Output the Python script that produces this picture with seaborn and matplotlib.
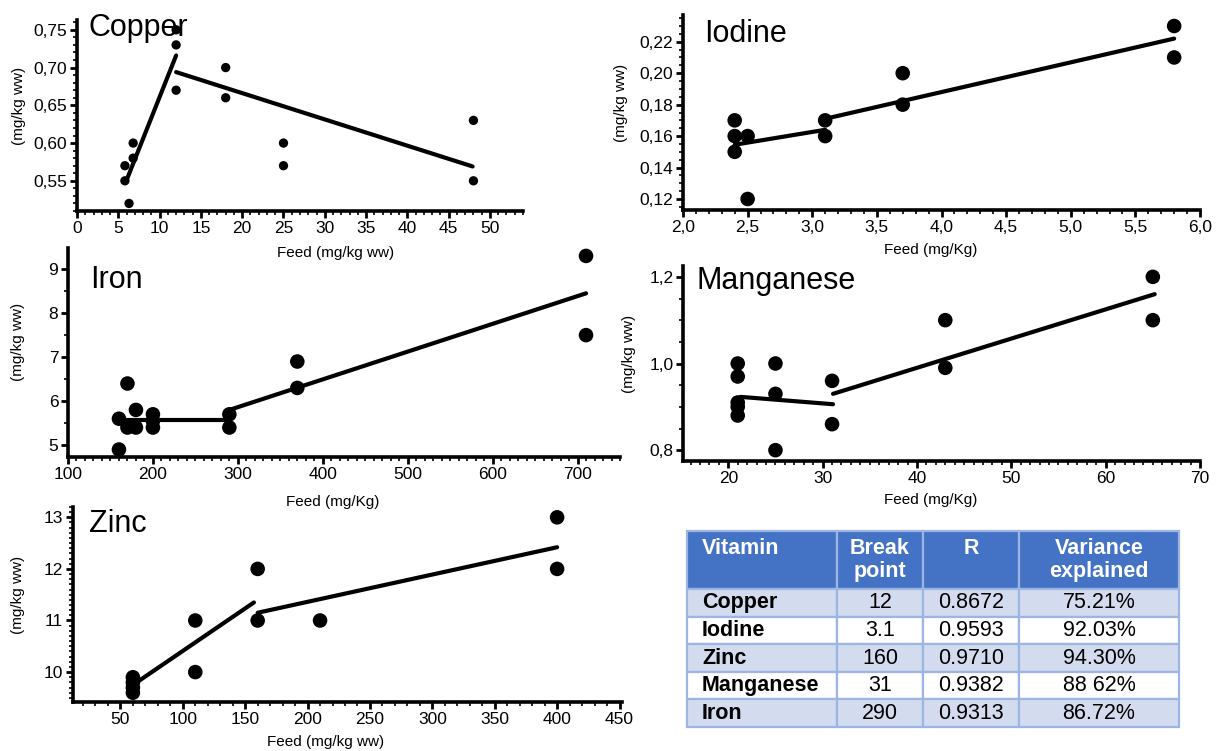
import numpy as np
import seaborn as sns
import matplotlib.pyplot as plt
from matplotlib.ticker import FuncFormatter, MultipleLocator

# ---- data ----
copper_x = [5.8, 5.8, 6.3, 6.8, 6.8, 12, 12, 12, 18, 18, 25, 25, 48, 48]
copper_y = [0.57, 0.55, 0.52, 0.60, 0.58, 0.75, 0.73, 0.67, 0.70, 0.66, 0.60, 0.57, 0.63, 0.55]
copper_fit_x = [[5.9, 12.0], [12.0, 47.9]]
copper_fit_y = [[0.548, 0.716], [0.694, 0.569]]

iodine_x = [2.4, 2.4, 2.4, 2.5, 2.5, 3.1, 3.1, 3.7, 3.7, 5.8, 5.8]
iodine_y = [0.17, 0.16, 0.15, 0.16, 0.12, 0.17, 0.16, 0.20, 0.18, 0.23, 0.21]
iodine_fit_x = [[2.4, 3.1], [3.1, 5.8]]
iodine_fit_y = [[0.1545, 0.164], [0.171, 0.222]]

iron_x = [160, 160, 170, 170, 180, 180, 200, 200, 200, 290, 290, 370, 370, 710, 710]
iron_y = [5.6, 4.9, 6.4, 5.4, 5.8, 5.4, 5.7, 5.55, 5.4, 5.7, 5.4, 6.9, 6.3, 9.3, 7.5]
iron_fit_x = [[165, 290], [290, 710]]
iron_fit_y = [[5.57, 5.57], [5.8, 8.45]]

mang_x = [21, 21, 21, 21, 21, 25, 25, 25, 31, 31, 43, 43, 65, 65]
mang_y = [1.00, 0.97, 0.91, 0.90, 0.88, 1.00, 0.93, 0.80, 0.96, 0.86, 1.10, 0.99, 1.20, 1.10]
mang_fit_x = [[21.3, 31.1], [31.1, 65.2]]
mang_fit_y = [[0.923, 0.906], [0.930, 1.160]]

zinc_x = [60, 60, 60, 60, 110, 110, 160, 160, 210, 400, 400]
zinc_y = [9.9, 9.8, 9.7, 9.6, 11, 10, 12, 11, 11, 13, 12]
zinc_fit_x = [[60, 157], [160, 400]]
zinc_fit_y = [[9.75, 11.35], [11.15, 12.42]]

vitamins = ['Copper', 'Iodine', 'Zinc', 'Manganese', 'Iron']
break_points = ['12', '3.1', '160', '31', '290']
r_values = ['0.8672', '0.9593', '0.9710', '0.9382', '0.9313']
variance = ['75.21%', '92.03%', '94.30%', '88 62%', '86.72%']
header = ['Vitamin\n ', 'Break\npoint', 'R\n ', 'Variance\nexplained']

sns.set_style('ticks')
plt.rcParams['font.family'] = ['Liberation Sans Narrow', 'Liberation Sans', 'DejaVu Sans']
plt.rcParams.update({'text.color': 'black', 'axes.labelcolor': 'black',
                     'xtick.color': 'black', 'ytick.color': 'black',
                     'axes.edgecolor': 'black'})

W, H = 1218, 751
fig = plt.figure(figsize=(W / 100, H / 100), dpi=100)


def px_axes(left, right, top, bottom):
    ax = fig.add_axes([left / W, 1 - bottom / H, (right - left) / W, (bottom - top) / H])
    ax.patch.set_alpha(0)
    return ax


def comma(dec):
    return FuncFormatter(lambda v, p: f'{v:.{dec}f}'.replace('.', ','))


def panel(ax, x, y, fit_x, fit_y, title, size, title_pos, xlabel, xlab_pos, ylab_x,
          xlim, ylim, xmaj, xmin, ymaj, ymin, xdec, ydec):
    sns.scatterplot(x=x, y=y, ax=ax, color='black', s=size, edgecolor='none', zorder=3)
    for fx, fy in zip(fit_x, fit_y):
        sns.lineplot(x=fx, y=fy, ax=ax, color='black', lw=3, estimator=None, sort=False)
    ax.set(xlim=xlim, ylim=ylim)
    ax.xaxis.set_major_locator(MultipleLocator(xmaj))
    ax.xaxis.set_minor_locator(MultipleLocator(xmin))
    ax.yaxis.set_major_locator(MultipleLocator(ymaj))
    ax.yaxis.set_minor_locator(MultipleLocator(ymin))
    ax.xaxis.set_major_formatter(comma(xdec))
    ax.yaxis.set_major_formatter(comma(ydec))
    sns.despine(ax=ax)
    for s in ['left', 'bottom']:
        ax.spines[s].set_linewidth(2.6)
        ax.spines[s].set_color('black')
    ax.tick_params(which='major', length=5, width=2, labelsize=12.5, pad=2, color='black')
    ax.tick_params(which='minor', length=3, width=1.2, color='black')
    ax.text(title_pos[0], title_pos[1], title, transform=ax.transAxes,
            fontsize=22, va='baseline', ha='left', color='black')
    ax.set_xlabel(xlabel, fontsize=11)
    ax.set_ylabel('(mg/kg ww)', fontsize=11)
    ax.xaxis.set_label_coords(xlab_pos[0], xlab_pos[1])
    ax.yaxis.set_label_coords(ylab_x, 0.55)
    ax.xaxis.label.set_va('center')
    ax.yaxis.label.set_va('center')


ax1 = px_axes(77, 523, 20, 211)
panel(ax1, copper_x, copper_y, copper_fit_x, copper_fit_y, 'Copper', 45, (0.025, 0.915),
      'Feed (mg/kg ww)', (0.58, -0.22), -0.13, (0, 54), (0.51, 0.763),
      5, 1, 0.05, 0.01, 0, 2)

ax2 = px_axes(683, 1200, 15, 210)
panel(ax2, iodine_x, iodine_y, iodine_fit_x, iodine_fit_y, 'Iodine', 110, (0.04, 0.86),
      'Feed (mg/Kg)', (0.48, -0.205), -0.12, (2, 6), (0.113, 0.237),
      0.5, 0.1, 0.02, 0.005, 1, 2)

ax3 = px_axes(68, 620, 248, 457)
panel(ax3, iron_x, iron_y, iron_fit_x, iron_fit_y, 'Iron', 110, (0.04, 0.81),
      'Feed (mg/Kg)', (0.48, -0.215), -0.09, (100, 750), (4.73, 9.48),
      100, 10, 1, 0.5, 0, 0)

ax4 = px_axes(683, 1200, 266, 461)
panel(ax4, mang_x, mang_y, mang_fit_x, mang_fit_y, 'Manganese', 110, (0.027, 0.88),
      'Feed (mg/Kg)', (0.48, -0.2), -0.105, (15.2, 70), (0.775, 1.225),
      10, 1, 0.2, 0.05, 0, 1)

ax5 = px_axes(73, 622, 507, 702)
panel(ax5, zinc_x, zinc_y, zinc_fit_x, zinc_fit_y, 'Zinc', 110, (0.03, 0.87),
      'Feed (mg/kg ww)', (0.46, -0.205), -0.1, (12, 452), (9.42, 13.2),
      50, 10, 1, 0.1, 0, 0)

# ---- table ----
axt = px_axes(687, 1179, 531, 727)
axt.axis('off')
rows = [list(r) for r in zip(vitamins, break_points, r_values, variance)]
tbl = axt.table(cellText=rows, colLabels=header, bbox=[0, 0, 1, 1],
                colWidths=[150, 86, 96, 160])
tbl.auto_set_font_size(False)
row_colors = ['#d3dbef', 'white', '#d3dbef', 'white', '#d3dbef']
for (r, c), cell in tbl.get_celld().items():
    cell.set_edgecolor('#9db5e3')
    cell.set_linewidth(1.6)
    txt = cell.get_text()
    txt.set_fontfamily(['Liberation Sans', 'DejaVu Sans'])
    txt.set_fontsize(15.5)
    if r == 0:
        cell.set_height(58)
        cell.set_facecolor('#4472c4')
        txt.set_color('white')
        txt.set_fontweight('bold')
        txt.set_linespacing(1.1)
    else:
        cell.set_height(27.6)
        cell.set_facecolor(row_colors[r - 1])
        txt.set_color('black')
        if c == 0:
            txt.set_fontweight('bold')
    cell._loc = 'left' if c == 0 else 'center'
    txt.set_ha('left' if c == 0 else 'center')
    cell.PAD = 0.1

fig.savefig('out.png', dpi=100)
